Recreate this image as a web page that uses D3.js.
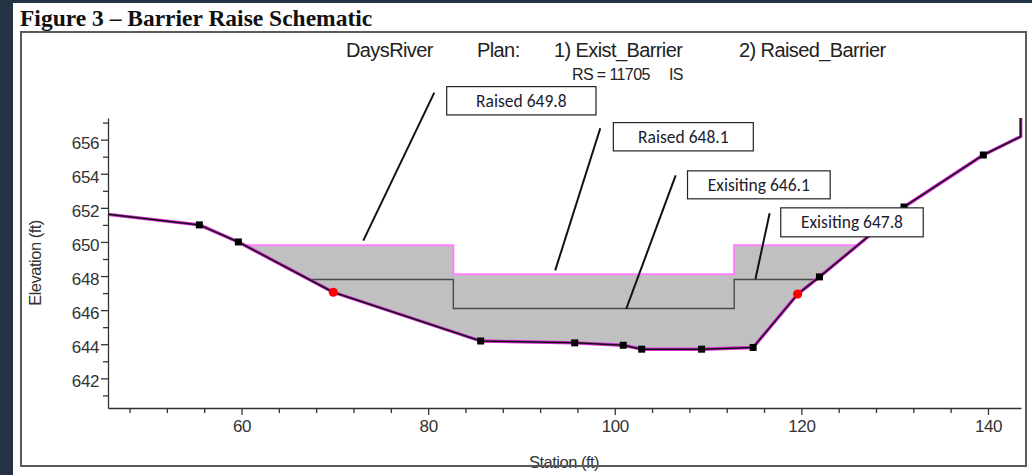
<!DOCTYPE html>
<html>
<head>
<meta charset="utf-8">
<script src="https://cdn.jsdelivr.net/npm/d3@7"></script>
<style>
  html, body { margin: 0; padding: 0; background: #253444; }
  svg { display: block; }
</style>
</head>
<body>
<svg id="chart" width="1032" height="475"></svg>
<script>
// MARK: Data.

// Ground profile of the cross section (station ft, elevation ft).
const groundStation = [45.69, 55.48, 59.66, 69.84, 85.63, 95.71, 100.91, 102.89, 109.31, 114.83, 119.60, 121.94, 131.00, 139.50, 143.51, 143.51]
const groundElev    = [651.62, 651.00, 650.00, 647.05, 644.19, 644.08, 643.94, 643.71, 643.71, 643.81, 646.94, 647.95, 652.05, 655.10, 656.18, 657.27]

// Black square markers (bank / ineffective points).
const squareStation = [55.48, 59.66, 85.63, 95.71, 100.91, 102.89, 109.31, 114.83, 121.94, 131.00, 139.50]
const squareElev    = [651.00, 650.00, 644.19, 644.08, 643.94, 643.71, 643.71, 643.81, 647.95, 652.05, 655.10]

// Red dot markers.
const dotStation = [69.84, 119.60]
const dotElev    = [647.05, 646.94]

// Barrier crest: left wing, centre notch, right wing.
const stepStation = [82.7, 112.8]
const raisedElev  = [649.8, 648.1, 649.8]
const existElev   = [647.8, 646.1, 647.8]

// Axis ticks.
const xMajor = [60, 80, 100, 120, 140]
const xMinor = d3.range(48, 144, 4).filter((v) => !xMajor.includes(v))
const yMajor = [642, 644, 646, 648, 650, 652, 654, 656]
const yMinor = [641, 643, 645, 647, 649, 651, 653, 655, 657]

// Callouts: text, box [s0, e0, s1, e1], leader [s0, e0, s1, e1].
const noteText   = ['Raised 649.8', 'Raised 648.1', 'Exisiting 646.1', 'Exisiting 647.8']
const noteBox    = [
  [81.99, 659.11, 97.99, 657.45],
  [99.85, 657.00, 114.85, 655.34],
  [107.80, 654.17, 123.09, 652.53],
  [117.79, 652.00, 133.06, 650.30],
]
const noteLeader = [
  [80.66, 658.76, 73.05, 650.08],
  [98.45, 656.67, 93.62, 648.33],
  [106.53, 653.91, 101.23, 646.07],
  [116.60, 651.68, 115.08, 647.83],
]

// MARK: Scales.

const svg = d3.select('#chart')
const x = d3.scaleLinear().domain([45.69, 143.54]).range([108, 1021])
const y = d3.scaleLinear().domain([640.26, 657.27]).range([408, 118])

const ground = groundStation.map((s, i) => ({ s, e: groundElev[i] }))

// Station where the ground crosses a level, searching from the left or the right bank.
function crossing(level, fromLeft) {
  const pts = fromLeft ? ground : ground.slice().reverse()
  for (let i = 0; i < pts.length - 1; i++) {
    const a = pts[i], b = pts[i + 1]
    if ((a.e - level) * (b.e - level) <= 0 && a.e !== b.e) {
      const t = (level - a.e) / (b.e - a.e)
      return a.s + t * (b.s - a.s)
    }
  }
}

function surface(levels) {
  const L = crossing(levels[0], true)
  const R = crossing(levels[2], false)
  return [
    { s: L, e: levels[0] },
    { s: stepStation[0], e: levels[0] },
    { s: stepStation[0], e: levels[1] },
    { s: stepStation[1], e: levels[1] },
    { s: stepStation[1], e: levels[2] },
    { s: R, e: levels[2] },
  ]
}

const line = d3.line().x((d) => x(d.s)).y((d) => y(d.e))

// MARK: Page.

svg.append('rect')
  .attr('x', 13).attr('y', 3).attr('width', 1019).attr('height', 472)
  .attr('fill', 'white')

svg.append('text')
  .attr('x', 20).attr('y', 26)
  .attr('font-family', 'Liberation Serif, Times New Roman, serif')
  .attr('font-weight', 'bold')
  .attr('font-size', 23.5)
  .attr('fill', '#111')
  .text('Figure 3 – Barrier Raise Schematic')

// Header of the plot.
const header = svg.append('g')
  .attr('font-family', 'Liberation Sans, Arial, sans-serif')
  .attr('fill', '#222')
  .attr('letter-spacing', -0.6)
header.selectAll('text.h1')
  .data([['DaysRiver', 346], ['Plan:', 477], ['1) Exist_Barrier', 554], ['2) Raised_Barrier', 739]])
  .enter().append('text')
  .attr('class', 'h1')
  .attr('x', (d) => d[1]).attr('y', 57)
  .attr('font-size', 20)
  .text((d) => d[0])
header.selectAll('text.h2')
  .data([['RS = 11705', 572], ['IS', 669]])
  .enter().append('text')
  .attr('class', 'h2')
  .attr('x', (d) => d[1]).attr('y', 80)
  .attr('font-size', 16)
  .text((d) => d[0])

// MARK: Water / barrier.

const raised = surface(raisedElev)
const exist  = surface(existElev)
const L = raised[0].s, R = raised[raised.length - 1].s
const fillPts = raised.concat(ground.filter((p) => p.s > L && p.s < R).reverse())

svg.append('path')
  .attr('d', line(fillPts) + 'Z')
  .attr('fill', '#c0c0c0')

svg.append('path')
  .attr('d', line(exist))
  .attr('fill', 'none')
  .attr('stroke', '#4a4a4a')
  .attr('stroke-width', 1.4)

svg.append('path')
  .attr('d', line(raised))
  .attr('fill', 'none')
  .attr('stroke', '#ff80ff')
  .attr('stroke-width', 2)

// MARK: Ground.

svg.append('path')
  .attr('d', line(ground))
  .attr('fill', 'none')
  .attr('stroke', '#d52bd5')
  .attr('stroke-width', 3.4)
  .attr('stroke-linejoin', 'round')
svg.append('path')
  .attr('d', line(ground))
  .attr('fill', 'none')
  .attr('stroke', '#111')
  .attr('stroke-width', 1.5)
  .attr('stroke-linejoin', 'round')

svg.selectAll('rect.bank')
  .data(squareStation.map((s, i) => ({ s, e: squareElev[i] })))
  .enter().append('rect')
  .attr('class', 'bank')
  .attr('x', (d) => x(d.s) - 3.5)
  .attr('y', (d) => y(d.e) - 3.5)
  .attr('width', 7).attr('height', 7)
  .attr('fill', 'black')

svg.selectAll('circle.dot')
  .data(dotStation.map((s, i) => ({ s, e: dotElev[i] })))
  .enter().append('circle')
  .attr('class', 'dot')
  .attr('cx', (d) => x(d.s))
  .attr('cy', (d) => y(d.e))
  .attr('r', 4.6)
  .attr('fill', '#ff0000')

// MARK: Axes.

const axisFont = 'Liberation Sans, Arial, sans-serif'

const xAxis = svg.append('g')
  .attr('transform', 'translate(0,408)')
  .call(d3.axisBottom(x).tickValues(xMajor).tickSize(7).tickPadding(5).tickSizeOuter(0))
xAxis.append('g')
  .call(d3.axisBottom(x).tickValues(xMinor).tickSize(5).tickFormat('').tickSizeOuter(0))
  .select('.domain').remove()

const yAxis = svg.append('g')
  .attr('transform', 'translate(108,0)')
  .call(d3.axisLeft(y).tickValues(yMajor).tickSize(7).tickPadding(2).tickSizeOuter(0))
yAxis.append('g')
  .call(d3.axisLeft(y).tickValues(yMinor).tickSize(5).tickFormat('').tickSizeOuter(0))
  .select('.domain').remove()
yAxis.selectAll('.tick text').attr('dy', '0.5em')

svg.selectAll('.domain, .tick line')
  .attr('stroke', '#333')
  .attr('stroke-width', 1.3)
svg.selectAll('.tick text')
  .attr('font-family', axisFont)
  .attr('font-size', 17)
  .attr('letter-spacing', -0.4)
  .attr('fill', '#333')

svg.append('text')
  .attr('transform', 'translate(41,263) rotate(-90)')
  .attr('text-anchor', 'middle')
  .attr('font-family', axisFont)
  .attr('font-size', 16.5)
  .attr('letter-spacing', -0.5)
  .attr('fill', '#333')
  .text('Elevation (ft)')

svg.append('text')
  .attr('x', 564).attr('y', 468)
  .attr('text-anchor', 'middle')
  .attr('font-family', axisFont)
  .attr('font-size', 16.5)
  .attr('letter-spacing', -0.5)
  .attr('fill', '#333')
  .text('Station (ft)')

// MARK: Callouts.

const notes = svg.append('g')
notes.selectAll('line')
  .data(noteLeader)
  .enter().append('line')
  .attr('x1', (d) => x(d[0])).attr('y1', (d) => y(d[1]))
  .attr('x2', (d) => x(d[2])).attr('y2', (d) => y(d[3]))
  .attr('stroke', '#111')
  .attr('stroke-width', 2)

const boxes = notes.selectAll('g.note')
  .data(noteBox)
  .enter().append('g')
  .attr('class', 'note')
boxes.append('rect')
  .attr('x', (d) => x(d[0])).attr('y', (d) => y(d[1]))
  .attr('width', (d) => x(d[2]) - x(d[0]))
  .attr('height', (d) => y(d[3]) - y(d[1]))
  .attr('fill', 'white')
  .attr('stroke', '#222')
  .attr('stroke-width', 1.2)
boxes.append('text')
  .attr('x', (d) => (x(d[0]) + x(d[2])) / 2)
  .attr('y', (d) => (y(d[1]) + y(d[3])) / 2)
  .attr('dy', '0.34em')
  .attr('text-anchor', 'middle')
  .attr('font-family', 'Carlito, Lato, sans-serif')
  .attr('font-size', 17.5)
  .attr('fill', '#1c1c30')
  .text((d, i) => noteText[i])

// MARK: Frame.

svg.append('rect')
  .attr('x', 21).attr('y', 32).attr('width', 1005).attr('height', 434)
  .attr('fill', 'none')
  .attr('stroke', '#5a5a5a')
  .attr('stroke-width', 2)
</script>
</body>
</html>
